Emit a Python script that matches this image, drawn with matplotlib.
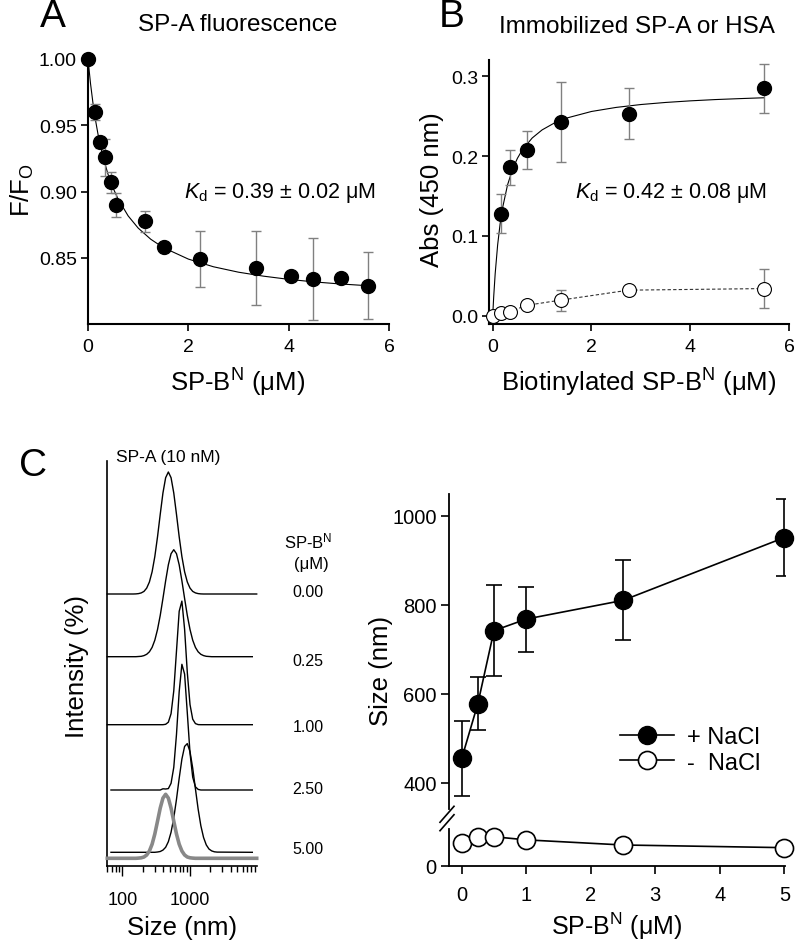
import matplotlib
matplotlib.use("Agg")
import matplotlib.pyplot as plt
from matplotlib.lines import Line2D
from matplotlib.ticker import FixedLocator, NullFormatter, FormatStrFormatter

plt.rcParams['font.family'] = ['Liberation Sans', 'DejaVu Sans']
plt.rcParams['mathtext.fontset'] = 'custom'
plt.rcParams['mathtext.rm'] = 'Liberation Sans'
plt.rcParams['mathtext.it'] = 'Liberation Sans:italic'
plt.rcParams['mathtext.bf'] = 'Liberation Sans:bold'

# ---------------- Panel A: SP-A fluorescence ----------------
a_conc = [0.0, 0.13, 0.24, 0.34, 0.46, 0.56, 1.13, 1.51, 2.24, 3.35, 4.05, 4.48, 5.04, 5.59]
a_ratio = [1.000, 0.960, 0.937, 0.926, 0.907, 0.890, 0.8775, 0.858, 0.849, 0.842, 0.836, 0.834, 0.835, 0.829]
a_err = [0.0, 0.006, 0.004, 0.014, 0.008, 0.009, 0.008, 0.003, 0.021, 0.028, 0.003, 0.031, 0.003, 0.025]
a_fit_x = [0.0, 0.05, 0.1, 0.15, 0.2, 0.3, 0.4, 0.5, 0.6, 0.8, 1.0, 1.25, 1.5, 2.0, 2.5, 3.0, 3.5, 4.0, 4.5, 5.0, 5.7]
a_fit_y = [1.000, 0.9815, 0.9664, 0.9538, 0.9431, 0.926, 0.9129, 0.9026, 0.8943, 0.8816, 0.8724, 0.864,
           0.8577, 0.849, 0.8432, 0.8391, 0.8361, 0.8337, 0.8318, 0.8303, 0.8286]

# ---------------- Panel B: immobilized SP-A or HSA ----------------
b_conc = [0.172, 0.344, 0.6875, 1.375, 2.75, 5.5]
b_spa = [0.128, 0.186, 0.208, 0.2425, 0.253, 0.285]
b_spa_err = [0.024, 0.022, 0.024, 0.050, 0.032, 0.031]
b_hsa_conc = [0.0, 0.172, 0.344, 0.6875, 1.375, 2.75, 5.5]
b_hsa = [0.0, 0.004, 0.005, 0.013, 0.0195, 0.032, 0.034]
b_hsa_err = [0.0, 0.002, 0.002, 0.002, 0.013, 0.002, 0.024]
b_fit_x = [0.0, 0.02, 0.05, 0.1, 0.15, 0.2, 0.3, 0.4, 0.5, 0.6, 0.8, 1.0, 1.25, 1.5, 2.0, 2.5, 3.0,
           3.5, 4.0, 4.5, 5.0, 5.5]
b_fit_y = [0.0, 0.0237, 0.0526, 0.0888, 0.1151, 0.1352, 0.1638, 0.1832, 0.1972, 0.2078, 0.2227, 0.2328,
           0.2415, 0.2477, 0.2559, 0.261, 0.2646, 0.2672, 0.2692, 0.2708, 0.272, 0.2731]

# ---------------- Panel C left: DLS intensity distributions ----------------
dls_size_nm = [144.5, 158.5, 173.8, 190.5, 208.9, 229.1, 251.2, 275.4, 302.0, 331.1, 363.1, 398.1,
               436.5, 478.6, 524.8, 575.4, 631.0, 691.8, 758.6, 831.8, 912.0, 1000.0, 1096.0, 1202.0,
               1318.0, 1445.0, 1585.0, 1738.0, 1905.0, 2089.0, 2291.0, 2512.0]
int_000 = [0.00, 0.01, 0.04, 0.11, 0.26, 0.59, 1.20, 2.22, 3.74, 5.72, 7.97, 10.10, 11.63, 12.20, 11.63,
           10.10, 7.97, 5.72, 3.74, 2.22, 1.20, 0.59, 0.26, 0.11, 0.04, 0.01, 0, 0, 0, 0, 0, 0]
int_025 = [0, 0, 0.02, 0.04, 0.11, 0.24, 0.49, 0.93, 1.65, 2.72, 4.13, 5.82, 7.59, 9.19, 10.30, 10.70,
           10.30, 9.19, 7.59, 5.82, 4.13, 2.72, 1.65, 0.93, 0.49, 0.24, 0.11, 0.04, 0.02, 0, 0, 0]
int_100 = [0, 0, 0, 0, 0, 0, 0, 0, 0, 0, 0, 0, 0.04, 0.25, 1.10, 3.38, 7.36, 11.34, 12.36, 9.54, 5.21,
           2.01, 0.55, 0.11, 0.01, 0, 0, 0, 0, 0, 0, 0]
int_250 = [0, 0, 0, 0, 0, 0, 0, 0, 0, 0, 0, 0.12, 0.10, 0.14, 0.67, 2.26, 5.55, 9.84, 12.57, 11.59, 7.70,
           3.69, 1.28, 0.32, 0.06, 0, 0, 0, 0, 0, 0, 0]
int_500 = [0, 0, 0, 0, 0, 0, 0, 0, 0, 0.03, 0.08, 0.22, 0.50, 1.06, 2.01, 3.43, 5.30, 7.40, 9.32, 10.59,
           10.87, 10.06, 8.41, 6.35, 4.32, 2.66, 1.48, 0.74, 0.33, 0.14, 0.05, 0.02]
int_spa = [0, 0, 0.02, 0.05, 0.13, 0.33, 0.73, 1.41, 2.43, 3.71, 5.02, 6.02, 6.40, 6.02, 5.02, 3.71, 2.43,
           1.41, 0.73, 0.33, 0.13, 0.05, 0.02, 0, 0, 0, 0, 0, 0, 0, 0, 0]
trace_labels = ["0.00", "0.25", "1.00", "2.50", "5.00"]

# ---------------- Panel C right: particle size ----------------
c_conc = [0, 0.25, 0.5, 1, 2.5, 5]
c_plus = [455, 578, 742, 768, 810, 951]
c_plus_err = [85, 59, 102, 73, 90, 87]
c_minus = [51, 64, 65, 58, 46.5, 40.5]

# =====================================================================
W, H = 800, 945
fig = plt.figure(figsize=(W / 100, H / 100), dpi=100)


def add_ax(l, t, r, b):
    return fig.add_axes([l / W, 1 - b / H, (r - l) / W, (b - t) / H])


def fxy(px, py):
    return px / W, 1 - py / H


def style(ax, tick_fs=14, lw=1.5, tl=5):
    for s in ('top', 'right'):
        ax.spines[s].set_visible(False)
    for s in ('left', 'bottom'):
        ax.spines[s].set_linewidth(lw)
    ax.tick_params(direction='out', length=tl, width=1.2, labelsize=tick_fs, pad=3)


def set_labels(ax, l, t, r, b, xlab=None, xpos=None, ylab=None, ypos=None, fs=18.5):
    if xlab is not None:
        ax.set_xlabel(xlab, fontsize=fs)
        ax.xaxis.label.set_va('center')
        ax.xaxis.set_label_coords((xpos[0] - l) / (r - l), (b - xpos[1]) / (b - t))
    if ylab is not None:
        ax.set_ylabel(ylab, fontsize=fs)
        ax.yaxis.label.set_va('center')
        ax.yaxis.set_label_coords((ypos[0] - l) / (r - l), (b - ypos[1]) / (b - t))


# ---------- Panel A ----------
LA = (88, 60, 389, 325)
axA = add_ax(*LA)
style(axA)
axA.set_xlim(0, 6)
axA.set_ylim(0.80, 1.00)
axA.set_xticks([0, 2, 4, 6])
axA.set_yticks([0.85, 0.90, 0.95, 1.00])
axA.yaxis.set_major_formatter(FormatStrFormatter('%.2f'))
axA.tick_params(axis='x', pad=5)
axA.plot(a_fit_x, a_fit_y, color='black', lw=0.8, zorder=2, clip_on=False)
axA.errorbar(a_conc, a_ratio, yerr=a_err, fmt='none', ecolor='#808080', elinewidth=1.0,
             capsize=3.5, capthick=1.0, zorder=3)
axA.plot(a_conc, a_ratio, 'o', ms=10, color='black', zorder=4, clip_on=False)
axA.text((280 - LA[0]) / (LA[2] - LA[0]), (LA[3] - 193) / (LA[3] - LA[1]),
         r"$K_\mathrm{d}$ = 0.39 ± 0.02 μM", transform=axA.transAxes, fontsize=15.5,
         ha='center', va='center')
set_labels(axA, *LA, xlab=r"SP-B$^{\mathrm{N}}$ (μM)", xpos=(238, 383),
           ylab=r"F/F$_{\mathrm{O}}$", ypos=(22, 190), fs=18.5)
fig.text(*fxy(238, 25), "SP-A fluorescence", fontsize=17.5, ha='center', va='center')
fig.text(*fxy(53, 17), "A", fontsize=28, ha='center', va='center')

# ---------- Panel B ----------
LB = (489.3, 61, 789, 325)
axB = add_ax(*LB)
style(axB)
axB.set_xlim(-0.069, 6)
axB.set_ylim(-0.0104, 0.3204)
axB.set_xticks([0, 2, 4, 6])
axB.set_yticks([0.0, 0.1, 0.2, 0.3])
axB.yaxis.set_major_formatter(FormatStrFormatter('%.1f'))
axB.tick_params(axis='x', pad=5)
axB.plot(b_fit_x, b_fit_y, color='black', lw=0.8, zorder=2)
axB.plot(b_hsa_conc, b_hsa, color='#333333', lw=0.8, dashes=(3, 2), zorder=2)
axB.errorbar(b_conc, b_spa, yerr=b_spa_err, fmt='none', ecolor='#808080', elinewidth=1.0,
             capsize=3.5, capthick=1.0, zorder=3)
axB.errorbar(b_hsa_conc, b_hsa, yerr=b_hsa_err, fmt='none', ecolor='#808080', elinewidth=1.0,
             capsize=3.5, capthick=1.0, zorder=3)
axB.plot(b_conc, b_spa, 'o', ms=10, color='black', zorder=4, clip_on=False)
axB.plot(b_hsa_conc, b_hsa, 'o', ms=10, mfc='white', mec='black', mew=0.8, zorder=4, clip_on=False)
axB.text((671 - LB[0]) / (LB[2] - LB[0]), (LB[3] - 193) / (LB[3] - LB[1]),
         r"$K_\mathrm{d}$ = 0.42 ± 0.08 μM", transform=axB.transAxes, fontsize=15.5,
         ha='center', va='center')
set_labels(axB, *LB, xlab=r"Biotinylated SP-B$^{\mathrm{N}}$ (μM)", xpos=(639, 383),
           ylab="Abs (450 nm)", ypos=(432, 190))
fig.text(*fxy(637, 27), "Immobilized SP-A or HSA", fontsize=17.5, ha='center', va='center')
fig.text(*fxy(452, 17), "B", fontsize=28, ha='center', va='center')

# ---------- Panel C left ----------
LC1 = (107.3, 462, 256.7, 866.7)
axC1 = add_ax(*LC1)
for s in ('top', 'right'):
    axC1.spines[s].set_visible(False)
axC1.spines['left'].set_linewidth(1.2)
axC1.spines['bottom'].set_linewidth(1.2)
axC1.set_xscale('log')
axC1.set_xlim(60, 9660)
axC1.set_ylim(0, 40.47)
axC1.set_yticks([])
axC1.xaxis.set_major_locator(FixedLocator([100, 1000]))
axC1.xaxis.set_minor_locator(FixedLocator([60, 70, 80, 90, 200, 300, 400, 500, 600, 700, 800, 900,
                                           2000, 3000, 4000, 5000, 6000, 7000, 8000, 9000]))
axC1.xaxis.set_minor_formatter(NullFormatter())
axC1.set_xticklabels(["100", "1000"])
axC1.tick_params(axis='x', which='major', direction='out', length=7, width=1.0, labelsize=13, pad=11)
axC1.tick_params(axis='x', which='minor', direction='out', length=4, width=1.0)

traces = [int_000, int_025, int_100, int_250, int_500]
offsets = [27.17, 20.9, 14.1, 7.57, 1.34]
starts = [60, 60, 60, 68, 68]
ends = [9660, 8320, 8320, 8320, 8320]
for vals, off, s0, s1 in zip(traces, offsets, starts, ends):
    xs = [s0] + dls_size_nm + [s1]
    ys = [off] + [off + v for v in vals] + [off]
    axC1.plot(xs, ys, color='black', lw=1.0, zorder=3, clip_on=False)
xs = [60] + dls_size_nm + [9660]
ys = [0.74] + [0.74 + v for v in int_spa] + [0.74]
axC1.plot(xs, ys, color='#888888', lw=2.6, zorder=4, clip_on=False)
set_labels(axC1, *LC1, xlab="Size (nm)", xpos=(182, 928), ylab="Intensity (%)", ypos=(77, 667))
fig.text(*fxy(308, 541), r"SP-B$^{\mathrm{N}}$", fontsize=12, ha='center', va='center')
fig.text(*fxy(311, 565), "(μM)", fontsize=12, ha='center', va='center')
for lab, py in zip(trace_labels, [593, 662, 728, 790, 850]):
    fig.text(*fxy(308, py), lab, fontsize=11.5, ha='center', va='center')
fig.text(*fxy(168, 458), "SP-A (10 nM)", fontsize=12.5, ha='center', va='center')
fig.text(*fxy(33, 466), "C", fontsize=28, ha='center', va='center')

# ---------- Panel C right ----------
LC2 = (449, 495, 785, 810)
LC3 = (449, 830, 785, 866.7)
axC2 = add_ax(*LC2)
axC3 = add_ax(*LC3)
for ax in (axC2, axC3):
    style(ax, tick_fs=14.5, lw=1.3, tl=6)
    ax.set_xlim(-0.197, 5.01)
axC2.spines['bottom'].set_visible(False)
axC2.set_xticks([])
axC2.set_ylim(341.6, 1048.8)
axC2.set_yticks([400, 600, 800, 1000])
axC3.set_ylim(0, 82.4)
axC3.set_yticks([0])
axC3.set_xticks([0, 1, 2, 3, 4, 5])
axC3.tick_params(axis='x', pad=8)

axC2.errorbar(c_conc, c_plus, yerr=c_plus_err, fmt='none', ecolor='black', elinewidth=1.2,
              capsize=5.5, capthick=1.2, zorder=2)
axC2.plot(c_conc, c_plus, '-o', color='black', lw=1.2, ms=13, zorder=3, clip_on=False)
axC3.plot(c_conc, c_minus, '-o', color='black', lw=1.2, ms=13, mfc='white', mec='black', mew=1.2,
          zorder=3, clip_on=False)
set_labels(axC3, *LC3, xlab=r"SP-B$^{\mathrm{N}}$ (μM)", xpos=(617, 926), fs=18)
axC2.set_ylabel("Size (nm)", fontsize=18.5)
axC2.yaxis.label.set_va('center')
axC2.yaxis.set_label_coords((381 - LC2[0]) / (LC2[2] - LC2[0]), (LC2[3] - 671) / (LC2[3] - LC2[1]))

# axis break marks
for y0 in (823.3, 831.7):
    x1, y1 = fxy(440, y0)
    x2, y2 = fxy(454, y0 - 16)
    fig.add_artist(Line2D([x1, x2], [y1, y2], color='black', lw=1.2))

h_plus = Line2D([], [], color='black', lw=1.2, marker='o', ms=13, mfc='black', mec='black')
h_minus = Line2D([], [], color='black', lw=1.2, marker='o', ms=13, mfc='white', mec='black', mew=1.2)
fig.legend([h_plus, h_minus], ["+ NaCl", "-  NaCl"], loc='upper left',
           bbox_to_anchor=fxy(620, 727), frameon=False, fontsize=17, handlelength=2.3,
           handletextpad=0.55, labelspacing=0.15, borderpad=0, borderaxespad=0)

fig.savefig("out.png", dpi=100)
